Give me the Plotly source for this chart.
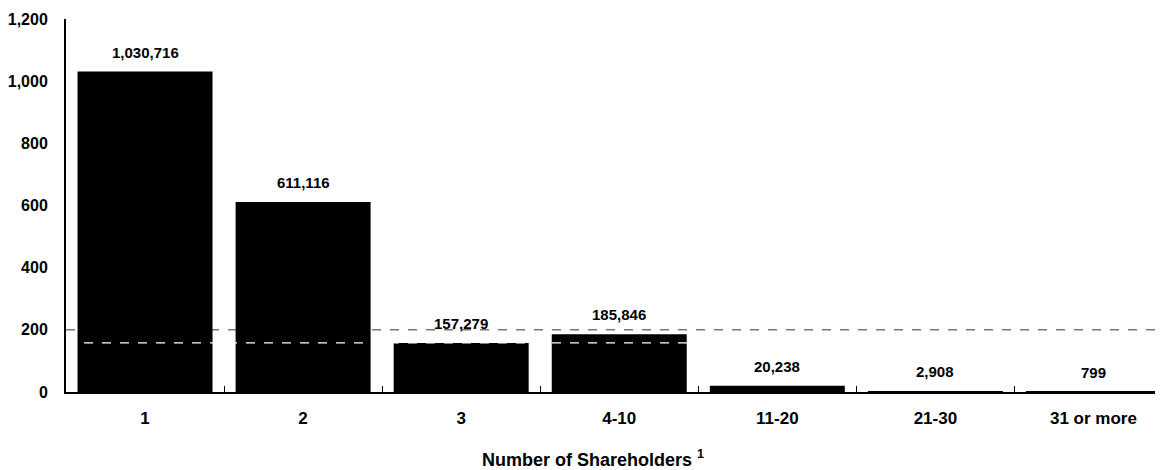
import plotly.graph_objects as go

categories = ["1", "2", "3", "4-10", "11-20", "21-30", "31 or more"]
values = [1030.716, 611.116, 157.279, 185.846, 20.238, 2.908, 0.799]
labels = ["1,030,716", "611,116", "157,279", "185,846", "20,238", "2,908", "799"]
y_ticks = [0, 200, 400, 600, 800, 1000, 1200]
y_tick_text = ["0", "200", "400", "600", "800", "1,000", "1,200"]
x_title = "Number of Shareholders <sup>1</sup>"

FONT = "Liberation Sans, Arial, sans-serif"

fig = go.Figure()
fig.add_trace(go.Bar(
    x=categories, y=values,
    marker=dict(color="black", line=dict(width=0)),
    hoverinfo="skip",
))

for i, (v, t) in enumerate(zip(values, labels)):
    fig.add_annotation(
        x=i, y=v, text=t, showarrow=False, yanchor="bottom", yshift=9,
        font=dict(family=FONT, size=15, color="black", weight="bold"),
    )

fig.add_annotation(
    xref="paper", yref="paper", x=0.48, y=0, yshift=-66, yanchor="middle",
    text=x_title, showarrow=False,
    font=dict(family=FONT, size=18, color="black", weight="bold"),
)

# dashed reference line at 200 (behind bars) and white dashed line drawn over bars
fig.add_shape(type="line", xref="paper", x0=0, x1=1, yref="y", y0=200, y1=200,
              line=dict(color="#333333", width=1, dash="dash"), layer="below")
fig.add_shape(type="line", xref="paper", x0=0, x1=1, yref="y", y0=158, y1=158,
              line=dict(color="white", width=1.2, dash="dash"), layer="above")

fig.update_layout(
    width=1155, height=462,
    margin=dict(l=58, r=0, t=11, b=78),
    paper_bgcolor="white", plot_bgcolor="white",
    bargap=0.146,
    showlegend=False,
    font=dict(family=FONT, color="black"),
    xaxis=dict(
        range=[-0.5, 6.44],
        tickfont=dict(family=FONT, size=17, weight="bold"),
        showline=True, linecolor="black", linewidth=1.5,
        ticks="inside", tickson="boundaries", ticklen=6, tickcolor="black",
        ticklabelstandoff=10,
        showgrid=False, zeroline=False, automargin=False,
    ),
    yaxis=dict(
        range=[0, 1200],
        tickvals=y_ticks, ticktext=y_tick_text,
        tickfont=dict(family=FONT, size=16, weight="bold"),
        showline=True, linecolor="black", linewidth=2,
        ticks="", ticklabelstandoff=13,
        showgrid=False, zeroline=False, automargin=False,
    ),
)

fig.write_html("out.html")
